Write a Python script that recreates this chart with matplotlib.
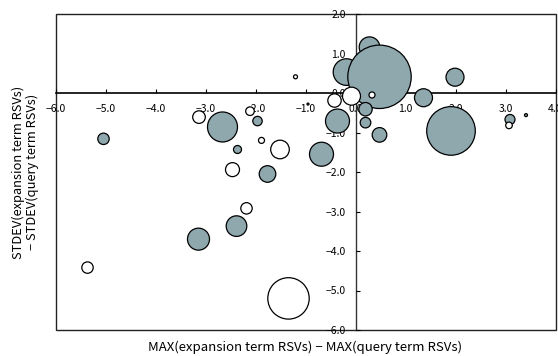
import matplotlib
matplotlib.use("Agg")
import matplotlib.pyplot as plt
from matplotlib.patches import Rectangle
import numpy as np

plt.rcParams['font.family'] = ['Noto Sans CJK JP', 'DejaVu Sans']
plt.rcParams['axes.unicode_minus'] = True

# filled bubbles: x, y, bubble magnitude (radius units)
fill_x = [-5.04, -2.66, -1.96, -2.36, -1.76, -0.68, -2.38, -3.14, 0.28, -0.18, 0.48,
          0.20, 0.20, 0.48, -0.36, 1.36, 1.99, 1.91, 3.09, 3.41, -0.95]
fill_y = [-1.16, -0.86, -0.71, -1.43, -2.05, -1.55, -3.37, -3.70, 1.16, 0.53, 0.41,
          -0.41, -0.75, -1.06, -0.71, -0.12, 0.40, -0.96, -0.67, -0.56, -0.28]
fill_r = [5.7, 15.0, 4.7, 4.0, 8.3, 12.0, 10.3, 11.0, 10.3, 13.3, 31.7,
          6.7, 5.3, 7.3, 12.0, 9.0, 9.0, 24.3, 5.0, 1.5, 1.0]

# open bubbles
open_x = [-5.36, -3.13, -2.11, -1.88, -1.51, -2.46, -2.18, -1.34, -1.20, -0.08, -0.42, 0.33, 3.07]
open_y = [-4.42, -0.61, -0.46, -1.20, -1.43, -1.94, -2.92, -5.20, 0.41, -0.08, -0.19, -0.05, -0.82]
open_r = [5.7, 6.3, 4.3, 3.0, 9.3, 7.0, 5.7, 20.7, 2.0, 9.0, 6.7, 3.0, 3.3]

xticks = [-6, -5, -4, -3, -2, -1, 0, 1, 2, 3, 4]
yticks = [2, 1, 0, -1, -2, -3, -4, -5, -6]

xlabel = "MAX(expansion term RSVs) − MAX(query term RSVs)"
ylabel = "STDEV(expansion term RSVs)\n− STDEV(query term RSVs)"

W, H = 558, 356
fig = plt.figure(figsize=(W / 100, H / 100), dpi=100)
ax = fig.add_axes([55.5 / W, 26 / H, 500 / W, 316 / H])
ax.set_xlim(-6, 4)
ax.set_ylim(-6, 2)

def to_s(r):
    d = 2 * np.asarray(r) * 0.72
    return d ** 2

fill_color = '#8ea8ae'
ax.scatter(fill_x, fill_y, s=to_s(fill_r), facecolor=fill_color, edgecolor='black',
           linewidth=0.9, zorder=3)
ax.scatter(open_x, open_y, s=to_s(open_r), facecolor='white', edgecolor='black',
           linewidth=0.9, zorder=3)

ax.spines['left'].set_position('zero')
ax.spines['bottom'].set_position('zero')
ax.spines['top'].set_visible(False)
ax.spines['right'].set_visible(False)
ax.spines['left'].set_color('#333333')
ax.spines['bottom'].set_color('black')
ax.spines['left'].set_linewidth(1.0)
ax.spines['bottom'].set_linewidth(1.2)
ax.spines['left'].set_zorder(1)
ax.spines['bottom'].set_zorder(1)

ax.add_patch(Rectangle((0, 0), 1, 1, transform=ax.transAxes, fill=False,
                       edgecolor='#222222', linewidth=1.0, clip_on=False, zorder=0))

ax.set_xticks(xticks)
ax.set_yticks(yticks)
ax.set_xticklabels([f"{v:.1f}".replace('-', '−') for v in xticks])
ax.set_yticklabels([f"{v:.1f}".replace('-', '−') for v in yticks])
ax.tick_params(axis='x', direction='in', length=3, width=0.8, pad=8, labelsize=7.5)
ax.tick_params(axis='y', direction='in', length=3, width=0.8, pad=7, labelsize=7.5)

fig.text(305 / W, 1 - 347 / H, xlabel, ha='center', va='center', fontsize=9.5)
fig.text(25 / W, 1 - 172 / H, ylabel, ha='center', va='center', fontsize=9.3,
         rotation=90, multialignment='center', linespacing=1.05)

fig.savefig('out.png', dpi=100)
